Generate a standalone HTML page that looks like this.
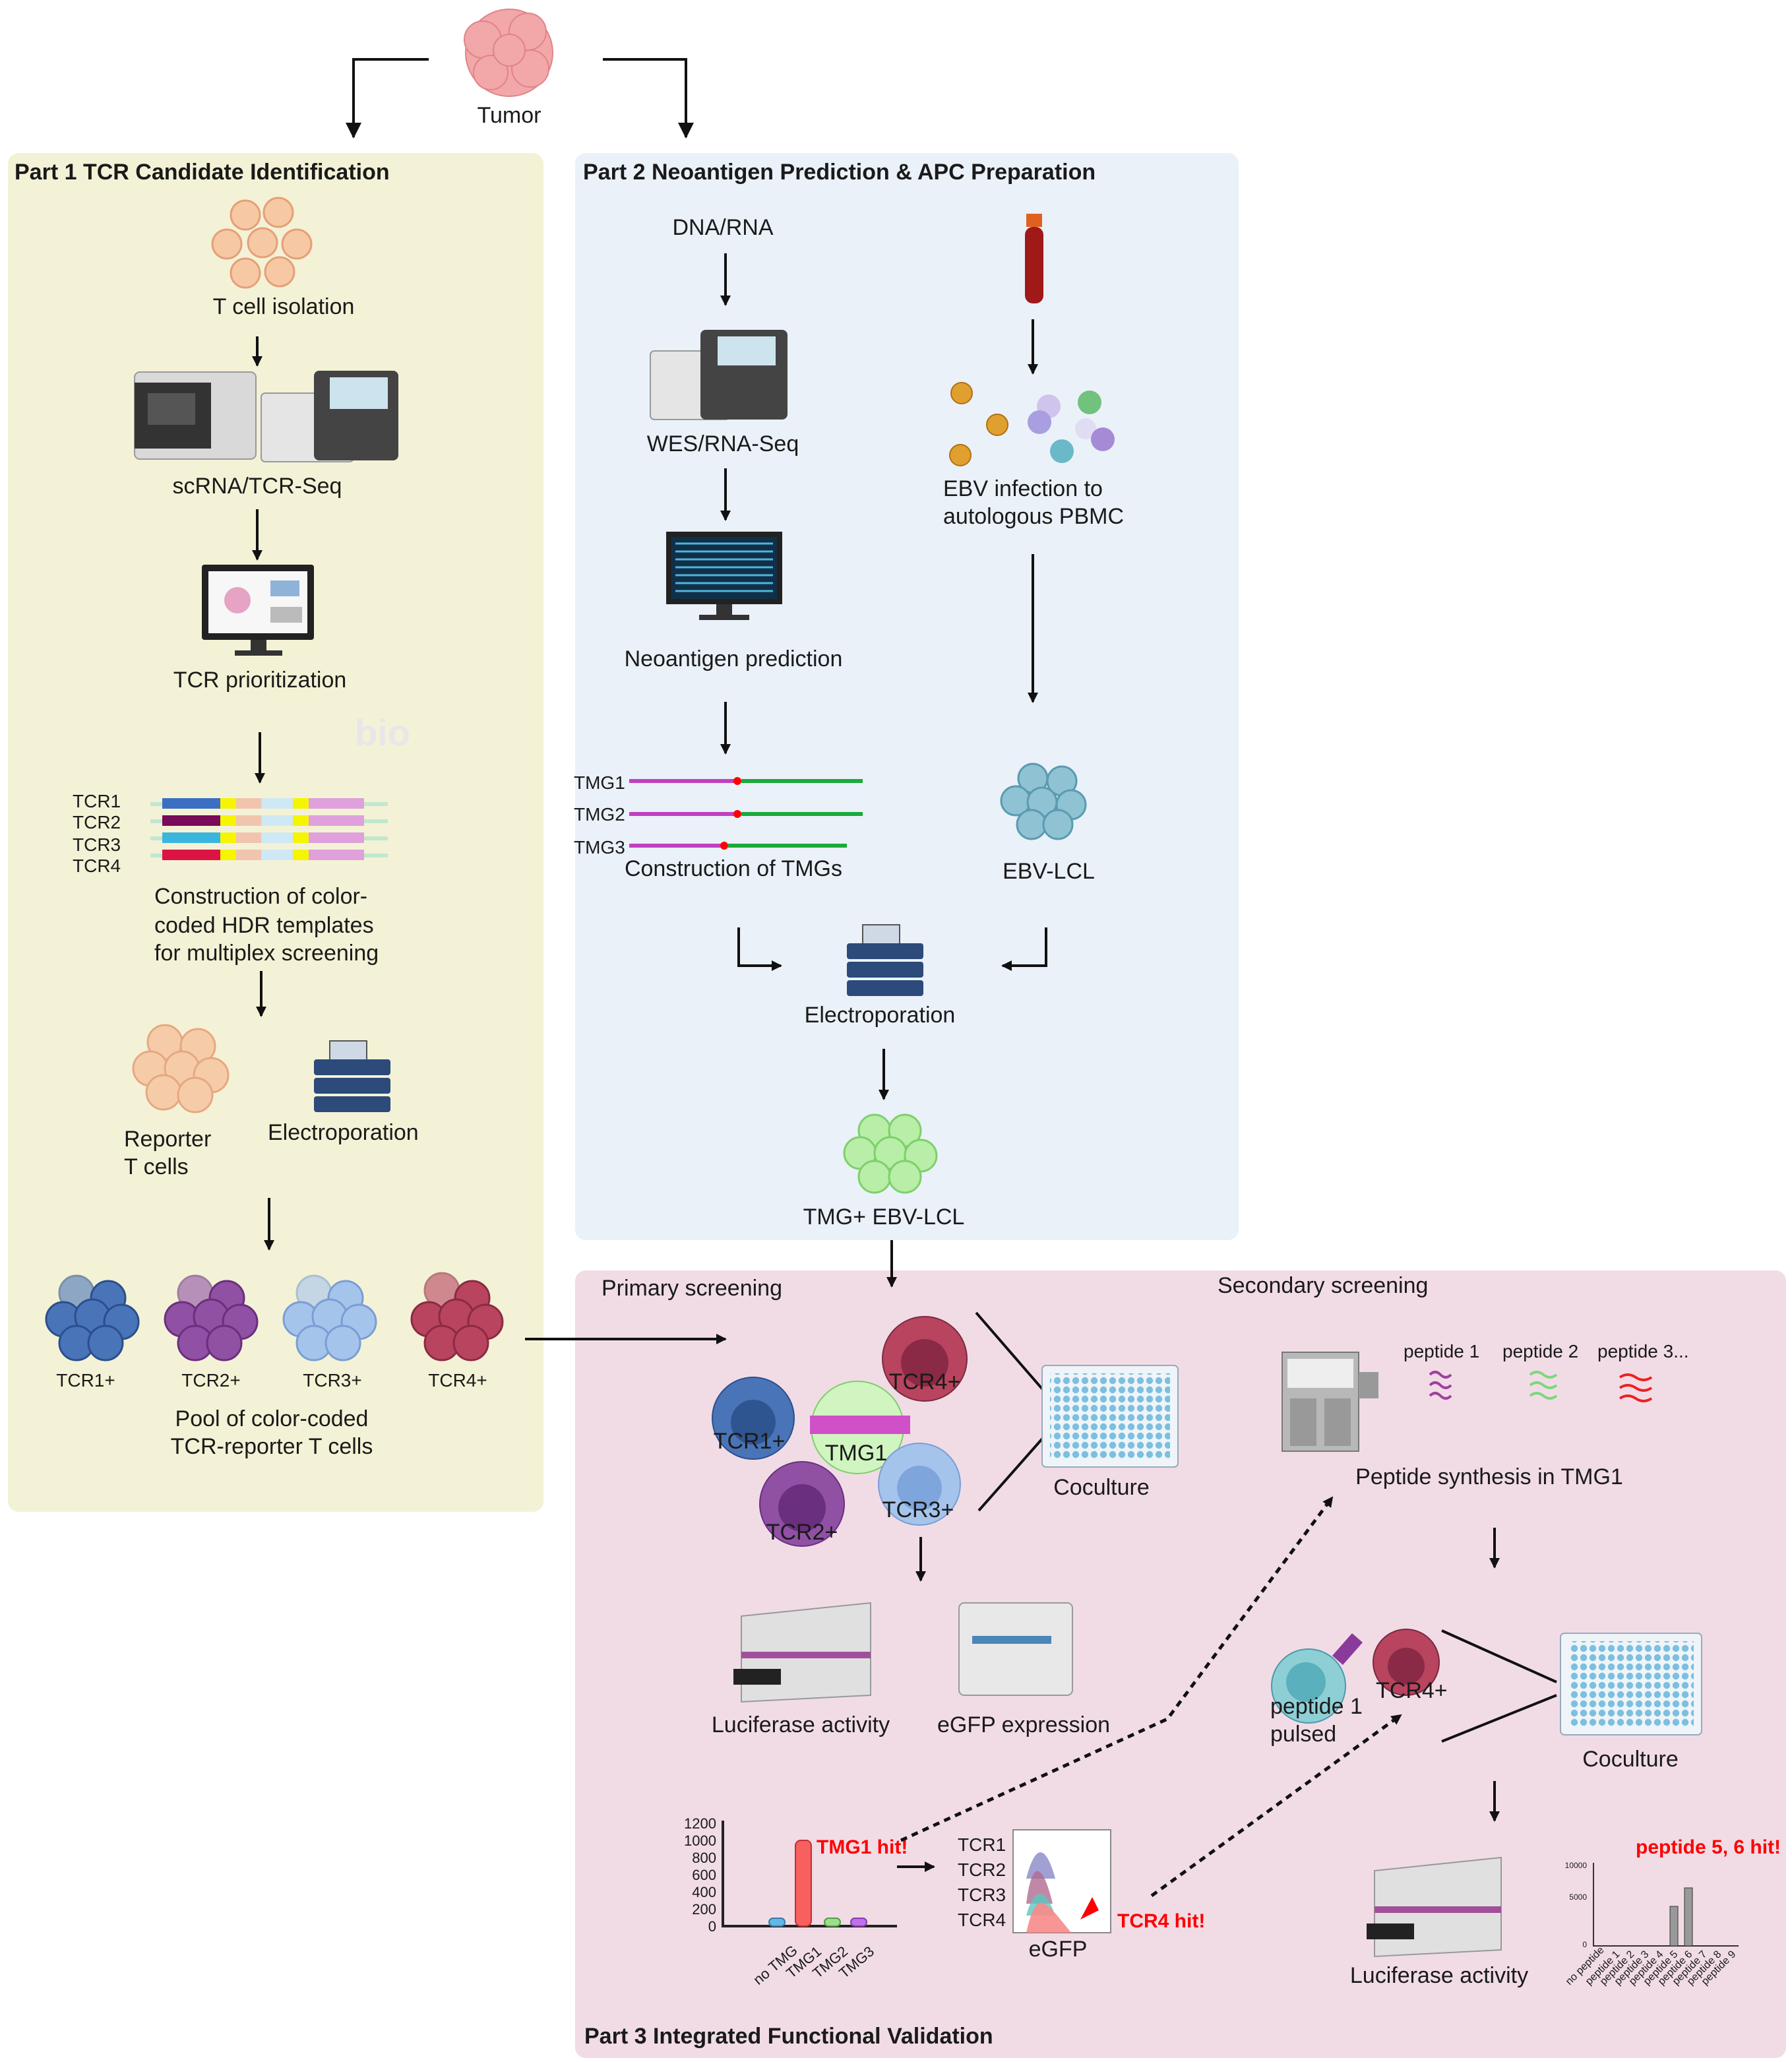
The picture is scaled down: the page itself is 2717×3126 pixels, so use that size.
<!DOCTYPE html>
<html><head><meta charset="utf-8"><style>
html,body{margin:0;padding:0;background:#fff}
svg{display:block}
text{font-family:"Liberation Sans",Arial,sans-serif;fill:#1a1a1a}
.t{font-size:17px}
.b{font-weight:bold;font-size:17px}
.c{text-anchor:middle}
.r{fill:#f00;font-weight:bold;font-size:15px}
.s{font-size:9px}
</style></head><body>
<svg width="2717" height="3126" viewBox="0 0 1358.5 1563" xmlns="http://www.w3.org/2000/svg">
<defs>
<marker id="a" markerWidth="8" markerHeight="8" refX="7" refY="4" orient="auto" markerUnits="userSpaceOnUse"><path d="M0,0 L8,4 L0,8 z" fill="#111"/></marker>
<marker id="a2" markerWidth="12" markerHeight="12" refX="11" refY="6" orient="auto" markerUnits="userSpaceOnUse"><path d="M0,0 L12,6 L0,12 z" fill="#111"/></marker>
<pattern id="wells" width="7" height="7" patternUnits="userSpaceOnUse"><circle cx="3.5" cy="3.5" r="2.6" fill="#7cbfe0"/></pattern>
</defs>
<rect width="1358.5" height="1563" fill="#fff"/>
<!-- panels -->
<rect x="6" y="116" width="406" height="1030" rx="8" fill="#f4f2d6"/>
<rect x="436" y="116" width="503" height="824" rx="8" fill="#eaf1f9"/>
<rect x="436" y="963" width="918" height="597" rx="8" fill="#f1dce6"/>

<!-- tumor -->
<g fill="#f2a7a9" stroke="#e08488" stroke-width="1">
<circle cx="386" cy="40" r="33"/><circle cx="366" cy="30" r="14"/><circle cx="400" cy="24" r="14"/><circle cx="372" cy="55" r="13"/><circle cx="402" cy="52" r="14"/><circle cx="386" cy="38" r="12"/>
</g>
<text x="386" y="93" class="t c">Tumor</text>
<g stroke="#111" stroke-width="2" fill="none">
<path d="M325,45 H268 V104" marker-end="url(#a2)"/>
<path d="M457,45 H520 V104" marker-end="url(#a2)"/>
</g>

<!-- Part1 -->
<text x="11" y="136" class="b">Part 1 TCR Candidate Identification</text>
<g fill="#f7c8a4" stroke="#e5a078" stroke-width="1.5">
<circle cx="186" cy="163" r="11"/><circle cx="211" cy="161" r="11"/><circle cx="172" cy="185" r="11"/><circle cx="199" cy="184" r="11"/><circle cx="225" cy="185" r="11"/><circle cx="186" cy="207" r="11"/><circle cx="212" cy="206" r="11"/>
</g>
<text x="215" y="238" class="t c">T cell isolation</text>
<g stroke="#111" stroke-width="2" fill="none">
<path d="M195,255 V277" marker-end="url(#a)"/>
<path d="M195,386 V424" marker-end="url(#a)"/>
<path d="M197,555 V593" marker-end="url(#a)"/>
<path d="M198,736 V770" marker-end="url(#a)"/>
<path d="M204,908 V947" marker-end="url(#a)"/>
</g>
<!-- sequencers -->
<rect x="102" y="282" width="92" height="66" rx="4" fill="#d9d9d9" stroke="#999"/>
<rect x="102" y="290" width="58" height="50" fill="#333"/>
<rect x="112" y="298" width="36" height="24" fill="#555"/>
<rect x="198" y="298" width="70" height="52" rx="3" fill="#e5e5e5" stroke="#999"/>
<rect x="238" y="281" width="64" height="68" rx="4" fill="#444"/>
<rect x="250" y="286" width="44" height="24" fill="#cde4ef"/>
<text x="195" y="374" class="t c">scRNA/TCR-Seq</text>
<!-- monitor -->
<rect x="153" y="428" width="85" height="57" rx="2" fill="#222"/>
<rect x="158" y="433" width="75" height="47" fill="#f7f7f7"/>
<circle cx="180" cy="455" r="10" fill="#e6a3c3"/><rect x="205" y="440" width="22" height="12" fill="#8fb2d9"/><rect x="205" y="460" width="24" height="12" fill="#bbb"/>
<rect x="190" y="485" width="12" height="8" fill="#333"/><rect x="178" y="493" width="36" height="4" fill="#333"/>
<text x="197" y="521" class="t c">TCR prioritization</text>
<text x="290" y="565" class="b c" style="fill:#e8e6e8;font-size:28px">bio</text>
<!-- HDR templates -->
<g class="s">
<text x="55" y="612" class="t" style="font-size:14px">TCR1</text>
<text x="55" y="628" class="t" style="font-size:14px">TCR2</text>
<text x="55" y="645" class="t" style="font-size:14px">TCR3</text>
<text x="55" y="661" class="t" style="font-size:14px">TCR4</text>
</g>
<g>
<rect x="114" y="608" width="180" height="3" fill="#bfe8cf"/><rect x="114" y="621" width="180" height="3" fill="#bfe8cf"/><rect x="114" y="634" width="180" height="3" fill="#bfe8cf"/><rect x="114" y="647" width="180" height="3" fill="#bfe8cf"/>
<rect x="123" y="605" width="44" height="8" fill="#3a6fc4"/><rect x="123" y="618" width="44" height="8" fill="#7a0a5a"/><rect x="123" y="631" width="44" height="8" fill="#3ab5de"/><rect x="123" y="644" width="44" height="8" fill="#dc1443"/>
<g fill="#f5f500"><rect x="167" y="605" width="12" height="8"/><rect x="167" y="618" width="12" height="8"/><rect x="167" y="631" width="12" height="8"/><rect x="167" y="644" width="12" height="8"/>
<rect x="222" y="605" width="12" height="8"/><rect x="222" y="618" width="12" height="8"/><rect x="222" y="631" width="12" height="8"/><rect x="222" y="644" width="12" height="8"/></g>
<g fill="#f0c4ae"><rect x="179" y="605" width="19" height="8"/><rect x="179" y="618" width="19" height="8"/><rect x="179" y="631" width="19" height="8"/><rect x="179" y="644" width="19" height="8"/></g>
<g fill="#cfe8f5"><rect x="198" y="605" width="24" height="8"/><rect x="198" y="618" width="24" height="8"/><rect x="198" y="631" width="24" height="8"/><rect x="198" y="644" width="24" height="8"/></g>
<g fill="#dfa0dc"><rect x="234" y="605" width="42" height="8"/><rect x="234" y="618" width="42" height="8"/><rect x="234" y="631" width="42" height="8"/><rect x="234" y="644" width="42" height="8"/></g>
</g>
<text x="117" y="685" class="t">Construction of color-</text>
<text x="117" y="707" class="t">coded HDR templates</text>
<text x="117" y="728" class="t">for multiplex screening</text>
<!-- reporter -->
<g fill="#f7c8a4" stroke="#e5a078" stroke-width="1.5" opacity="0.9">
<circle cx="125" cy="790" r="13"/><circle cx="150" cy="793" r="13"/><circle cx="114" cy="810" r="13"/><circle cx="138" cy="810" r="13"/><circle cx="160" cy="815" r="13"/><circle cx="124" cy="828" r="13"/><circle cx="148" cy="830" r="13"/>
</g>
<text x="94" y="869" class="t">Reporter</text>
<text x="94" y="890" class="t">T cells</text>
<!-- electroporator -->
<g>
<rect x="250" y="789" width="28" height="16" fill="#cfd9e6" stroke="#555"/>
<rect x="238" y="803" width="58" height="12" rx="2" fill="#2c4a7a"/>
<rect x="238" y="817" width="58" height="12" rx="2" fill="#2c4a7a"/>
<rect x="238" y="831" width="58" height="12" rx="2" fill="#2c4a7a"/>
</g>
<text x="203" y="864" class="t">Electroporation</text>
<!-- pools -->
<g stroke-width="1.5">
<g fill="#4a74b8" stroke="#2b4f8c"><circle cx="58" cy="980" r="13" opacity=".6"/><circle cx="82" cy="984" r="13"/><circle cx="48" cy="1000" r="13"/><circle cx="70" cy="998" r="13"/><circle cx="92" cy="1002" r="13"/><circle cx="58" cy="1018" r="13"/><circle cx="80" cy="1018" r="13"/></g>
<g fill="#9050a4" stroke="#6a2f7e"><circle cx="148" cy="980" r="13" opacity=".6"/><circle cx="172" cy="984" r="13"/><circle cx="138" cy="1000" r="13"/><circle cx="160" cy="998" r="13"/><circle cx="182" cy="1002" r="13"/><circle cx="148" cy="1018" r="13"/><circle cx="170" cy="1018" r="13"/></g>
<g fill="#a5c4ec" stroke="#7a9ed3"><circle cx="238" cy="980" r="13" opacity=".6"/><circle cx="262" cy="984" r="13"/><circle cx="228" cy="1000" r="13"/><circle cx="250" cy="998" r="13"/><circle cx="272" cy="1002" r="13"/><circle cx="238" cy="1018" r="13"/><circle cx="260" cy="1018" r="13"/></g>
<g fill="#b8445f" stroke="#8c2a42"><circle cx="335" cy="978" r="13" opacity=".6"/><circle cx="358" cy="984" r="13"/><circle cx="325" cy="1000" r="13"/><circle cx="346" cy="998" r="13"/><circle cx="368" cy="1002" r="13"/><circle cx="335" cy="1018" r="13"/><circle cx="357" cy="1018" r="13"/></g>
</g>
<g style="font-size:14px"><text x="65" y="1051" class="c" style="font-size:14px">TCR1+</text><text x="160" y="1051" class="c" style="font-size:14px">TCR2+</text><text x="252" y="1051" class="c" style="font-size:14px">TCR3+</text><text x="347" y="1051" class="c" style="font-size:14px">TCR4+</text></g>
<text x="206" y="1081" class="t c">Pool of color-coded</text>
<text x="206" y="1102" class="t c">TCR-reporter T cells</text>

<!-- Part2 -->
<text x="442" y="136" class="b">Part 2 Neoantigen Prediction &amp; APC Preparation</text>
<text x="548" y="178" class="t c">DNA/RNA</text>
<g stroke="#111" stroke-width="2" fill="none">
<path d="M550,192 V231" marker-end="url(#a)"/>
<path d="M550,355 V394" marker-end="url(#a)"/>
<path d="M550,532 V571" marker-end="url(#a)"/>
<path d="M783,242 V283" marker-end="url(#a)"/>
<path d="M783,420 V532" marker-end="url(#a)"/>
<path d="M560,703 V732 H592" marker-end="url(#a)"/>
<path d="M793,703 V732 H760" marker-end="url(#a)"/>
<path d="M670,795 V833" marker-end="url(#a)"/>
<path d="M676,940 V975" marker-end="url(#a)"/>
</g>
<rect x="493" y="266" width="60" height="52" rx="3" fill="#e5e5e5" stroke="#999"/>
<rect x="531" y="250" width="66" height="68" rx="4" fill="#444"/>
<rect x="544" y="255" width="44" height="22" fill="#cde4ef"/>
<text x="548" y="342" class="t c">WES/RNA-Seq</text>
<rect x="505" y="403" width="88" height="55" fill="#222"/>
<rect x="509" y="407" width="80" height="47" fill="#10304a"/>
<g stroke="#4fb6d8" stroke-width="1.5"><path d="M512,412 H586 M512,418 H586 M512,424 H586 M512,430 H586 M512,436 H586 M512,442 H586 M512,448 H586"/></g>
<rect x="543" y="458" width="12" height="8" fill="#333"/><rect x="530" y="466" width="38" height="4" fill="#333"/>
<text x="556" y="505" class="t c">Neoantigen prediction</text>
<g style="font-size:14px"><text x="435" y="598" style="font-size:14px">TMG1</text><text x="435" y="622" style="font-size:14px">TMG2</text><text x="435" y="647" style="font-size:14px">TMG3</text></g>
<g stroke="#c040c0" stroke-width="3"><path d="M477,592 H558 M477,617 H558 M477,641 H550"/></g>
<g fill="#f00"><circle cx="559" cy="592" r="3"/><circle cx="559" cy="617" r="3"/><circle cx="549" cy="641" r="3"/></g>
<g stroke="#1aaa3a" stroke-width="3"><path d="M562,592 H654 M562,617 H654 M552,641 H642"/></g>
<text x="556" y="664" class="t c">Construction of TMGs</text>
<!-- blood tube -->
<rect x="778" y="162" width="12" height="10" fill="#e06020"/>
<rect x="777" y="172" width="14" height="58" rx="6" fill="#a01818"/>
<!-- EBV -->
<g fill="#e0a030" stroke="#b07010"><circle cx="729" cy="298" r="8"/><circle cx="756" cy="322" r="8"/><circle cx="728" cy="345" r="8"/></g>
<g><circle cx="795" cy="308" r="9" fill="#d0c4ec"/><circle cx="788" cy="320" r="9" fill="#a89ee0"/><circle cx="826" cy="305" r="9" fill="#72c27e"/><circle cx="823" cy="325" r="8" fill="#e0dcf4"/><circle cx="836" cy="333" r="9" fill="#a58ad6"/><circle cx="805" cy="342" r="9" fill="#6ab8c8"/></g>
<text x="715" y="376" class="t">EBV infection to</text>
<text x="715" y="397" class="t">autologous PBMC</text>
<g fill="#8fc3d3" stroke="#5a9bb0" stroke-width="1.5">
<circle cx="783" cy="590" r="11"/><circle cx="805" cy="592" r="11"/><circle cx="770" cy="607" r="11"/><circle cx="790" cy="608" r="11"/><circle cx="812" cy="610" r="11"/><circle cx="782" cy="625" r="11"/><circle cx="802" cy="625" r="11"/>
</g>
<text x="795" y="666" class="t c">EBV-LCL</text>
<rect x="654" y="701" width="28" height="16" fill="#cfd9e6" stroke="#555"/>
<rect x="642" y="715" width="58" height="12" rx="2" fill="#2c4a7a"/>
<rect x="642" y="729" width="58" height="12" rx="2" fill="#2c4a7a"/>
<rect x="642" y="743" width="58" height="12" rx="2" fill="#2c4a7a"/>
<text x="667" y="775" class="t c">Electroporation</text>
<g fill="#b8eea8" stroke="#7ed06a" stroke-width="1.5">
<circle cx="663" cy="857" r="12"/><circle cx="686" cy="857" r="12"/><circle cx="652" cy="874" r="12"/><circle cx="675" cy="874" r="12"/><circle cx="698" cy="876" r="12"/><circle cx="663" cy="892" r="12"/><circle cx="686" cy="892" r="12"/>
</g>
<text x="670" y="928" class="t c">TMG+ EBV-LCL</text>

<!-- Part3 -->
<text x="456" y="982" class="t">Primary screening</text>
<text x="923" y="980" class="t">Secondary screening</text>
<path d="M398,1015 H550" stroke="#111" stroke-width="2" marker-end="url(#a)"/>
<circle cx="701" cy="1030" r="32" fill="#b8445f" stroke="#7a2a3e"/><circle cx="701" cy="1033" r="18" fill="#8a2a46"/>
<circle cx="571" cy="1075" r="31" fill="#4a74b8" stroke="#2b4f8c"/><circle cx="571" cy="1078" r="17" fill="#2f5590"/>
<circle cx="650" cy="1082" r="35" fill="#d0f5c0" stroke="#7ed06a"/>
<g fill="#d050c8"><path d="M614,1073 H690 V1087 H614 z"/></g>
<circle cx="608" cy="1140" r="32" fill="#9050a4" stroke="#6a2f7e"/><circle cx="608" cy="1143" r="18" fill="#6a2f7e"/>
<circle cx="697" cy="1125" r="31" fill="#a5c4ec" stroke="#7a9ed3"/><circle cx="697" cy="1128" r="17" fill="#7ea6dc"/>
<text x="701" y="1053" class="t c">TCR4+</text>
<text x="568" y="1098" class="t c">TCR1+</text>
<text x="649" y="1107" class="t c">TMG1</text>
<text x="608" y="1167" class="t c">TCR2+</text>
<text x="696" y="1150" class="t c">TCR3+</text>
<g stroke="#111" stroke-width="2"><path d="M740,995 L792,1055 M742,1145 L795,1085"/>
<path d="M1093,1236 L1180,1275 M1093,1320 L1180,1285"/></g>
<rect x="790" y="1035" width="103" height="77" rx="3" fill="#eef4f8" stroke="#9ab"/>
<rect x="796" y="1041" width="91" height="65" fill="url(#wells)"/>
<text x="835" y="1133" class="t c">Coculture</text>
<g stroke="#111" stroke-width="2" fill="none">
<path d="M698,1165 V1198" marker-end="url(#a)"/>
<path d="M1133,1158 V1188" marker-end="url(#a)"/>
<path d="M1133,1350 V1380" marker-end="url(#a)"/>
</g>
<!-- luciferase -->
<g>
<path d="M562,1225 L660,1215 V1285 L562,1290 z" fill="#e0e0e0" stroke="#999"/>
<rect x="562" y="1252" width="98" height="5" fill="#a0509a"/>
<rect x="556" y="1265" width="36" height="12" fill="#222"/>
</g>
<text x="607" y="1313" class="t c">Luciferase activity</text>
<rect x="727" y="1215" width="86" height="70" rx="4" fill="#e8e8e8" stroke="#999"/>
<rect x="737" y="1240" width="60" height="6" fill="#4a86b8"/>
<text x="776" y="1313" class="t c">eGFP expression</text>
<!-- bar chart -->
<g style="font-size:11px">
<text x="543" y="1386" text-anchor="end" style="font-size:11px">1200</text><text x="543" y="1399" text-anchor="end" style="font-size:11px">1000</text><text x="543" y="1412" text-anchor="end" style="font-size:11px">800</text><text x="543" y="1425" text-anchor="end" style="font-size:11px">600</text><text x="543" y="1438" text-anchor="end" style="font-size:11px">400</text><text x="543" y="1451" text-anchor="end" style="font-size:11px">200</text><text x="543" y="1464" text-anchor="end" style="font-size:11px">0</text>
</g>
<path d="M548,1380 V1460 H680" stroke="#222" stroke-width="2" fill="none"/>
<rect x="583" y="1454" width="12" height="6" rx="3" fill="#60b8e8" stroke="#3a7aa8"/>
<rect x="603" y="1395" width="12" height="65" rx="4" fill="#f86060" stroke="#c03030"/>
<rect x="625" y="1454" width="12" height="6" rx="3" fill="#9ae08a" stroke="#5a9a4a"/>
<rect x="645" y="1454" width="12" height="6" rx="3" fill="#c070e8" stroke="#8a3ab0"/>
<g style="font-size:11px"><text transform="translate(575,1505) rotate(-40)" style="font-size:11px">no TMG</text><text transform="translate(600,1500) rotate(-40)" style="font-size:11px">TMG1</text><text transform="translate(620,1500) rotate(-40)" style="font-size:11px">TMG2</text><text transform="translate(640,1500) rotate(-40)" style="font-size:11px">TMG3</text></g>
<text x="619" y="1405" class="r">TMG1 hit!</text>
<path d="M680,1415 H708" stroke="#111" stroke-width="2" marker-end="url(#a)"/>
<rect x="768" y="1387" width="74" height="78" fill="#fff" stroke="#888"/>
<path d="M778,1424 C784,1400 792,1395 800,1424 Z" fill="#8888c8" opacity=".8"/>
<path d="M778,1443 C782,1410 790,1410 798,1443 Z" fill="#b06a90" opacity=".8"/>
<path d="M778,1452 C784,1430 792,1430 800,1452 Z" fill="#5ac8c0" opacity=".8"/>
<path d="M778,1465 C786,1430 792,1440 812,1465 Z" fill="#f88a8a" opacity=".9"/>
<path d="M828,1438 L833,1448 L819,1455 z" fill="#f00"/>
<g style="font-size:14px"><text x="726" y="1403" style="font-size:14px">TCR1</text><text x="726" y="1422" style="font-size:14px">TCR2</text><text x="726" y="1441" style="font-size:14px">TCR3</text><text x="726" y="1460" style="font-size:14px">TCR4</text></g>
<text x="802" y="1483" class="t c">eGFP</text>
<text x="847" y="1461" class="r">TCR4 hit!</text>
<g stroke="#111" stroke-width="2.5" stroke-dasharray="5,4" fill="none">
<path d="M683,1395 L885,1303 L1010,1135" marker-end="url(#a)"/>
<path d="M873,1437 L1062,1300" marker-end="url(#a)"/>
</g>
<!-- synthesizer -->
<rect x="972" y="1025" width="58" height="75" fill="#b8b8b8" stroke="#777"/>
<rect x="976" y="1030" width="50" height="22" fill="#eee"/>
<rect x="1030" y="1040" width="15" height="20" fill="#999"/>
<rect x="978" y="1060" width="20" height="36" fill="#999"/><rect x="1004" y="1060" width="20" height="36" fill="#999"/>
<text x="1064" y="1029" style="font-size:14px">peptide 1</text>
<text x="1139" y="1029" style="font-size:14px">peptide 2</text>
<text x="1211" y="1029" style="font-size:14px">peptide 3...</text>
<g fill="none" stroke-width="2">
<path d="M1084,1042 q4,-4 8,0 t8,0 M1084,1050 q4,-4 8,0 t8,0 M1084,1058 q4,-4 8,0 t8,0" stroke="#a040a0"/>
<path d="M1160,1042 q5,-4 10,0 t10,0 M1160,1050 q5,-4 10,0 t10,0 M1160,1058 q5,-4 10,0 t10,0" stroke="#7ad87a"/>
<path d="M1228,1044 q6,-4 12,0 t12,0 M1228,1052 q6,-4 12,0 t12,0 M1228,1060 q6,-4 12,0 t12,0" stroke="#f02020"/>
</g>
<text x="1129" y="1125" class="t c">Peptide synthesis in TMG1</text>
<!-- secondary coculture -->
<circle cx="992" cy="1278" r="28" fill="#8ecfd6" stroke="#4a9aa8"/><circle cx="990" cy="1275" r="15" fill="#5ab0bc"/>
<path d="M1010,1255 L1025,1238 L1033,1245 L1018,1262 z" fill="#8a3a9a"/>
<circle cx="1066" cy="1260" r="25" fill="#b8445f" stroke="#7a2a3e"/><circle cx="1066" cy="1263" r="14" fill="#8a2a46"/>
<text x="963" y="1299" class="t">peptide 1</text>
<text x="963" y="1320" class="t">pulsed</text>
<text x="1043" y="1287" class="t">TCR4+</text>
<rect x="1183" y="1238" width="107" height="77" rx="3" fill="#eef4f8" stroke="#9ab"/>
<rect x="1189" y="1244" width="95" height="65" fill="url(#wells)"/>
<text x="1236" y="1339" class="t c">Coculture</text>
<path d="M1042,1418 L1138,1408 V1478 L1042,1483 z" fill="#e0e0e0" stroke="#999"/>
<rect x="1042" y="1445" width="96" height="5" fill="#a0509a"/>
<rect x="1036" y="1458" width="36" height="12" fill="#222"/>
<text x="1091" y="1503" class="t c">Luciferase activity</text>
<path d="M1208,1412 V1475 H1318" stroke="#333" stroke-width="1" fill="none"/>
<rect x="1266" y="1445" width="6" height="30" fill="#999" stroke="#333" stroke-width=".5"/>
<rect x="1277" y="1431" width="6" height="44" fill="#999" stroke="#333" stroke-width=".5"/>
<g style="font-size:6px"><text x="1203" y="1416" text-anchor="end" style="font-size:6px">10000</text><text x="1203" y="1440" text-anchor="end" style="font-size:6px">5000</text><text x="1203" y="1476" text-anchor="end" style="font-size:6px">0</text></g>
<g style="font-size:8px">
<text transform="translate(1190,1505) rotate(-45)" style="font-size:8px">no peptide</text>
<text transform="translate(1205,1505) rotate(-45)" style="font-size:8px">peptide 1</text>
<text transform="translate(1216,1505) rotate(-45)" style="font-size:8px">peptide 2</text>
<text transform="translate(1227,1505) rotate(-45)" style="font-size:8px">peptide 3</text>
<text transform="translate(1238,1505) rotate(-45)" style="font-size:8px">peptide 4</text>
<text transform="translate(1249,1505) rotate(-45)" style="font-size:8px">peptide 5</text>
<text transform="translate(1260,1505) rotate(-45)" style="font-size:8px">peptide 6</text>
<text transform="translate(1271,1505) rotate(-45)" style="font-size:8px">peptide 7</text>
<text transform="translate(1282,1505) rotate(-45)" style="font-size:8px">peptide 8</text>
<text transform="translate(1293,1505) rotate(-45)" style="font-size:8px">peptide 9</text>
</g>
<text x="1240" y="1405" class="r">peptide 5, 6 hit!</text>
<text x="443" y="1549" class="b">Part 3 Integrated Functional Validation</text>
</svg>
</body></html>
